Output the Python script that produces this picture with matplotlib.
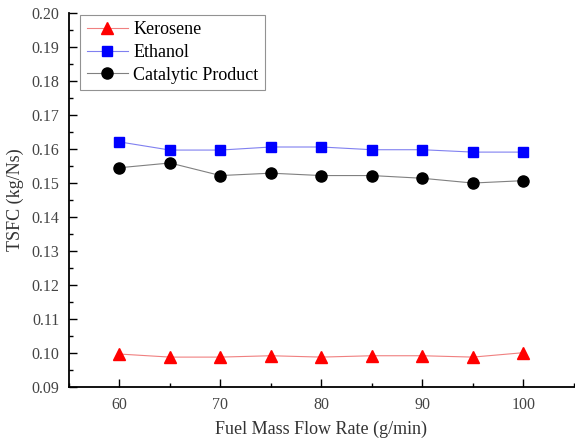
import matplotlib.pyplot as plt
from matplotlib.ticker import MultipleLocator

flow = [60, 65, 70, 75, 80, 85, 90, 95, 100]
kerosene = [0.0997, 0.0988, 0.0988, 0.0992, 0.0988, 0.0992, 0.0992, 0.0988, 0.1001]
ethanol = [0.1621, 0.1597, 0.1597, 0.1606, 0.1606, 0.1598, 0.1598, 0.1591, 0.1591]
catalytic = [0.1545, 0.1559, 0.1522, 0.1529, 0.1522, 0.1522, 0.1514, 0.1500, 0.1507]

plt.rcParams['font.family'] = ['Liberation Serif', 'DejaVu Serif']

fig = plt.figure(figsize=(5.75, 4.41), dpi=100)
ax = fig.add_axes([0.12, 0.1224, 0.878, 0.848])

ax.plot(flow, kerosene, color='#f08080', lw=0.8, marker='^', ms=8,
        mfc='red', mec='red', label='Kerosene')
ax.plot(flow, ethanol, color='#8080f0', lw=0.8, marker='s', ms=7,
        mfc='blue', mec='blue', label='Ethanol')
ax.plot(flow, catalytic, color='#808080', lw=0.8, marker='o', ms=8,
        mfc='black', mec='black', label='Catalytic Product')

ax.set_xlim(55, 105)
ax.set_ylim(0.09, 0.20)
ax.xaxis.set_major_locator(MultipleLocator(10))
ax.xaxis.set_minor_locator(MultipleLocator(5))
ax.yaxis.set_major_locator(MultipleLocator(0.01))
ax.yaxis.set_minor_locator(MultipleLocator(0.005))
ax.yaxis.set_major_formatter(plt.FormatStrFormatter('%.2f'))
ax.set_xticks([60, 70, 80, 90, 100])

for s in ['top', 'right']:
    ax.spines[s].set_visible(False)
for s in ['left', 'bottom']:
    ax.spines[s].set_linewidth(1.3)

ax.tick_params(which='major', direction='in', length=6, width=1,
               labelsize=11.5, labelcolor='#444444', pad=7)
ax.tick_params(which='minor', direction='in', length=3, width=1)

ax.set_xlabel('Fuel Mass Flow Rate (g/min)', fontsize=13, color='#333333', labelpad=6)
ax.set_ylabel('TSFC (kg/Ns)', fontsize=13, color='#333333', labelpad=5)

leg = ax.legend(loc='upper left', bbox_to_anchor=(0.015, 1.005), fontsize=13,
                frameon=True, fancybox=False, handlelength=2.3,
                borderpad=0.35, labelspacing=0.32, handletextpad=0.3,
                borderaxespad=0.2)
leg.get_frame().set_edgecolor('#777777')
leg.get_frame().set_linewidth(0.8)

fig.savefig('out.png', dpi=100)
